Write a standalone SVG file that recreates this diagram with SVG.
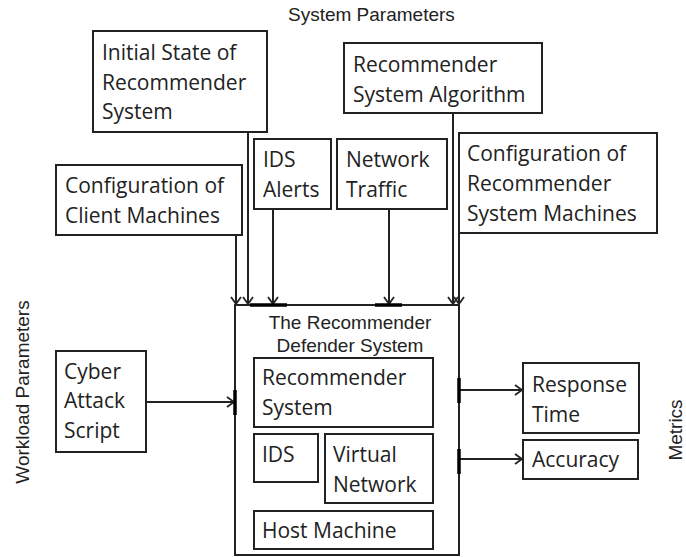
<svg xmlns="http://www.w3.org/2000/svg" width="686" height="557" viewBox="0 0 686 557">
<defs>
<marker id="arr" markerUnits="userSpaceOnUse" markerWidth="14" markerHeight="14" refX="10" refY="7" orient="auto">
<polyline points="3,2 10,7 3,12" fill="none" stroke="#222" stroke-width="1.8"/>
</marker>
<style>
.box{fill:#fff;stroke:#222;stroke-width:2}
.t{font-family:"Open Sans","Liberation Sans",sans-serif;font-size:21px;fill:#222}
.a{font-family:"Liberation Sans",Arial,sans-serif;font-size:19px;fill:#222}
.c{fill:none;stroke:#222;stroke-width:2}
.thick{fill:none;stroke:#000;stroke-width:3.5}
</style>
</defs>
<rect width="686" height="557" fill="#fff"/>
<text class="a" x="288" y="21">System Parameters</text>
<text class="a" transform="translate(29,392) rotate(-90)" text-anchor="middle">Workload Parameters</text>
<text class="a" transform="translate(682,430) rotate(-90)" text-anchor="middle">Metrics</text>

<g id="connectors">
<line class="c" x1="236" y1="235" x2="236" y2="304" marker-end="url(#arr)"/>
<line class="c" x1="248" y1="132" x2="248" y2="304" marker-end="url(#arr)"/>
<line class="c" x1="273" y1="209" x2="273" y2="304" marker-end="url(#arr)"/>
<line class="c" x1="389" y1="209" x2="389" y2="304" marker-end="url(#arr)"/>
<line class="c" x1="453" y1="113" x2="453" y2="304" marker-end="url(#arr)"/>
<line class="c" x1="459" y1="233" x2="459" y2="304" marker-end="url(#arr)"/>
<line class="c" x1="146" y1="402" x2="234" y2="402" marker-end="url(#arr)"/>
<line class="c" x1="459" y1="390" x2="522" y2="390" marker-end="url(#arr)"/>
<line class="c" x1="459" y1="459" x2="522" y2="459" marker-end="url(#arr)"/>
</g>

<g id="initial-state">
<rect class="box" x="93" y="31" width="174" height="101"/>
<text class="t"><tspan x="102" y="60">Initial State of</tspan><tspan x="102" y="89.5">Recommender</tspan><tspan x="102" y="119">System</tspan></text>
</g>
<g id="algorithm">
<rect class="box" x="344" y="43" width="198" height="70"/>
<text class="t"><tspan x="353" y="72">Recommender</tspan><tspan x="353" y="102">System Algorithm</tspan></text>
</g>
<g id="ids-alerts">
<rect class="box" x="254" y="139" width="77" height="70"/>
<text class="t"><tspan x="263" y="167">IDS</tspan><tspan x="263" y="197">Alerts</tspan></text>
</g>
<g id="network-traffic">
<rect class="box" x="337" y="139" width="110" height="70"/>
<text class="t"><tspan x="346" y="167">Network</tspan><tspan x="346" y="197">Traffic</tspan></text>
</g>
<g id="client-config">
<rect class="box" x="56" y="165" width="186" height="70"/>
<text class="t"><tspan x="65" y="193">Configuration of</tspan><tspan x="65" y="223">Client Machines</tspan></text>
</g>
<g id="rec-config">
<rect class="box" x="459" y="133" width="198" height="100"/>
<text class="t"><tspan x="467" y="161">Configuration of</tspan><tspan x="467" y="191">Recommender</tspan><tspan x="467" y="221">System Machines</tspan></text>
</g>

<g id="defender">
<rect class="box" x="235" y="305" width="224" height="250"/>
<line class="thick" x1="250" y1="305" x2="287" y2="305"/>
<line class="thick" x1="375" y1="305" x2="402" y2="305"/>
<line class="thick" x1="235" y1="390" x2="235" y2="415"/>
<line class="thick" x1="459" y1="378" x2="459" y2="403"/>
<line class="thick" x1="459" y1="449" x2="459" y2="474"/>
<text class="a" text-anchor="middle"><tspan x="350" y="329">The Recommender</tspan><tspan x="350" y="352">Defender System</tspan></text>
</g>
<g id="recommender-system">
<rect class="box" x="254" y="358" width="179" height="69"/>
<text class="t"><tspan x="262" y="385">Recommender</tspan><tspan x="262" y="415">System</tspan></text>
</g>
<g id="ids">
<rect class="box" x="254" y="434" width="64" height="48"/>
<text class="t" x="262" y="462">IDS</text>
</g>
<g id="virtual-network">
<rect class="box" x="325" y="434" width="108" height="69"/>
<text class="t"><tspan x="333" y="462">Virtual</tspan><tspan x="333" y="492">Network</tspan></text>
</g>
<g id="host-machine">
<rect class="box" x="254" y="511" width="179" height="38"/>
<text class="t" x="262" y="538">Host Machine</text>
</g>

<g id="cyber-attack">
<rect class="box" x="56" y="351" width="90" height="101"/>
<text class="t"><tspan x="64" y="379">Cyber</tspan><tspan x="64" y="408">Attack</tspan><tspan x="64" y="438">Script</tspan></text>
</g>
<g id="response-time">
<rect class="box" x="523" y="363" width="116" height="70"/>
<text class="t"><tspan x="532" y="392">Response</tspan><tspan x="532" y="422">Time</tspan></text>
</g>
<g id="accuracy">
<rect class="box" x="523" y="440" width="115" height="39"/>
<text class="t" x="532" y="467">Accuracy</text>
</g>
</svg>
